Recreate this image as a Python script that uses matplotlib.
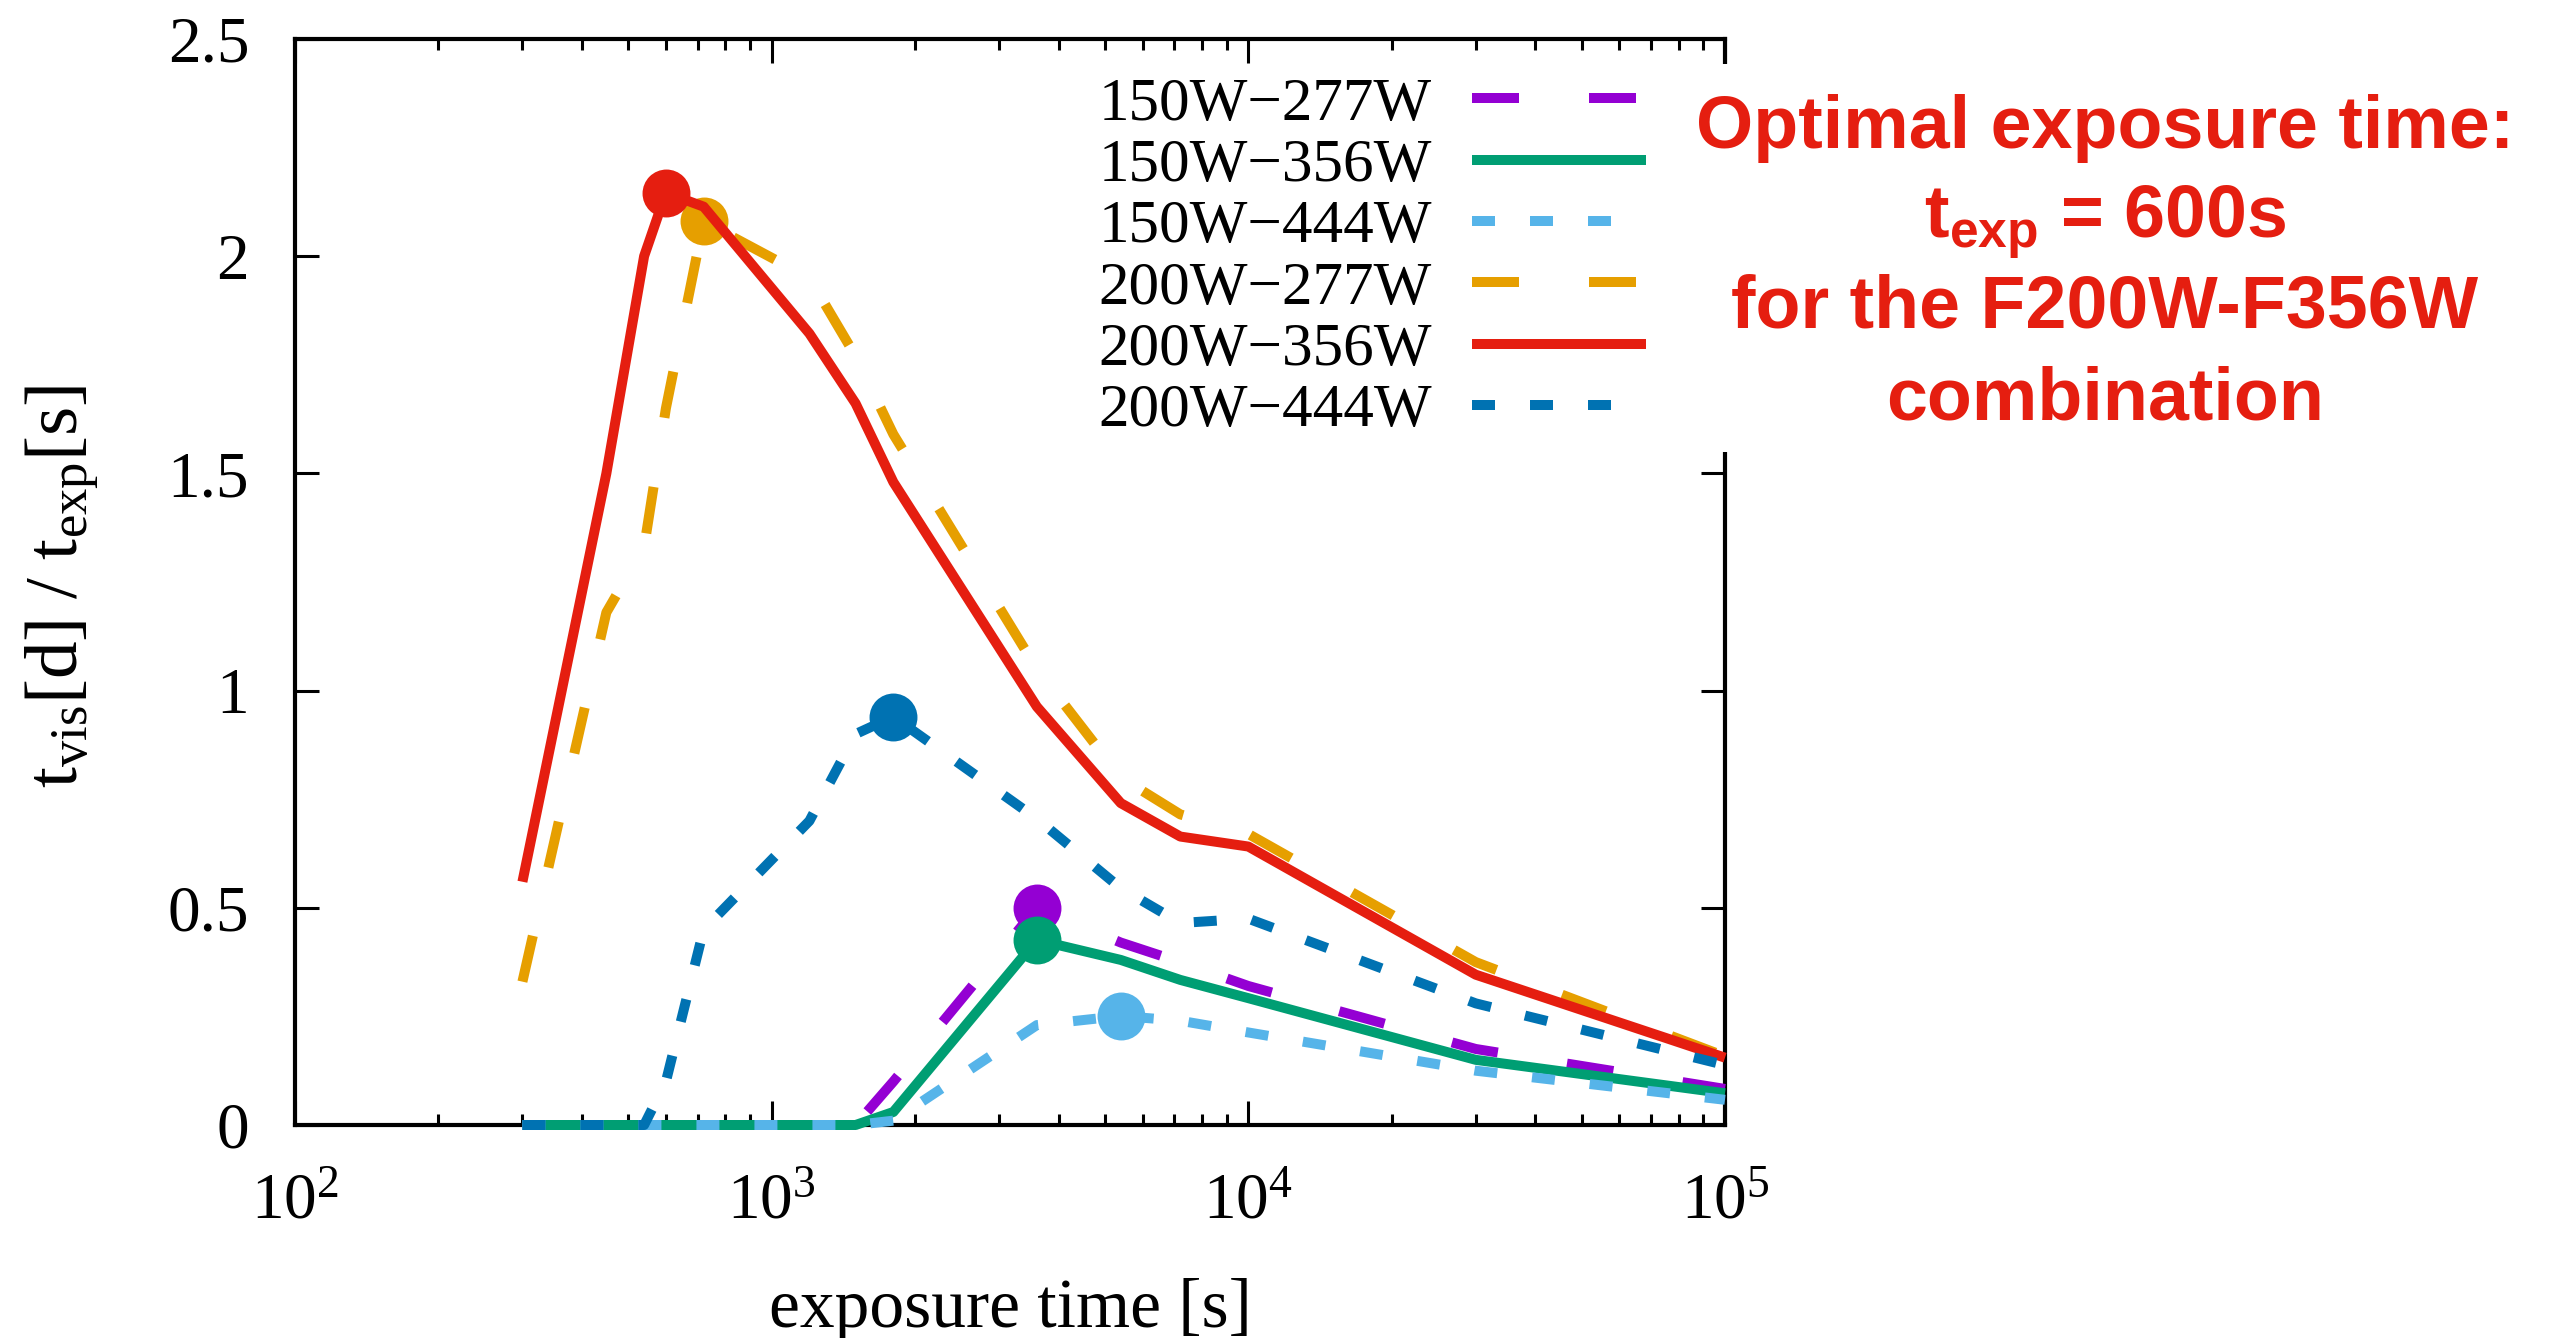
import numpy as np
import matplotlib
matplotlib.use('Agg')
import matplotlib.pyplot as plt
from matplotlib.patches import Rectangle
from matplotlib.ticker import LogLocator, FuncFormatter, NullFormatter, FixedLocator

plt.rcParams['font.family'] = ['Liberation Serif', 'DejaVu Serif']
plt.rcParams['mathtext.fontset'] = 'custom'
plt.rcParams['mathtext.rm'] = 'Liberation Serif'
plt.rcParams['mathtext.it'] = 'Liberation Serif:italic'
plt.rcParams['mathtext.bf'] = 'Liberation Sans:bold'

# ---------------- data ----------------
exposure_time = [300, 450, 540, 600, 720, 1200, 1500, 1800, 3600, 5400, 7200, 10000, 30000, 100000]

f150w_f277w = [0, 0, 0, 0, 0, 0, 0, 0.10, 0.50, 0.42, 0.375, 0.32, 0.175, 0.083]
f150w_f356w = [0, 0, 0, 0, 0, 0, 0, 0.03, 0.426, 0.38, 0.334, 0.292, 0.15, 0.073]
f150w_f444w = [0, 0, 0, 0, 0, 0, 0, 0.01, 0.23, 0.251, 0.24, 0.213, 0.125, 0.058]
f200w_f277w = [0.33, 1.18, 1.33, 1.65, 2.08, 1.95, 1.77, 1.59, 1.05, 0.80, 0.715, 0.67, 0.375, 0.158]
f200w_f356w = [0.56, 1.50, 2.00, 2.146, 2.114, 1.822, 1.661, 1.48, 0.963, 0.741, 0.664, 0.641, 0.346, 0.155]
f200w_f444w = [0, 0, 0, 0.10, 0.45, 0.70, 0.90, 0.94, 0.705, 0.545, 0.465, 0.475, 0.28, 0.138]

labels = ['150W\u2212277W', '150W\u2212356W', '150W\u2212444W',
          '200W\u2212277W', '200W\u2212356W', '200W\u2212444W']
series = [f150w_f277w, f150w_f356w, f150w_f444w, f200w_f277w, f200w_f356w, f200w_f444w]

y_ticks = [0, 0.5, 1, 1.5, 2, 2.5]

annotation_lines = ['Optimal exposure time:', r'$\mathbf{t}_{\mathbf{exp}}$ = 600s',
                    'for the F200W-F356W', 'combination']

# ---------------- styles ----------------
colors = ['#9400d3', '#009e73', '#56b4e9', '#e69f00', '#e51e10', '#0072b2']
long_dash = (0, (4.7, 7.0))
short_dash = (0, (2.3, 3.5))
linestyles = [long_dash, '-', short_dash, long_dash, '-', short_dash]

W, H = 2553, 1338
fig = plt.figure(figsize=(W / 100, H / 100), dpi=100)
ax = fig.add_axes([295 / W, 1 - 1125 / H, 1430 / W, 1086 / H])

lw = 7.2
for y, lab, c, ls in zip(series, labels, colors, linestyles):
    ax.plot(exposure_time, y, color=c, linestyle=ls, lw=lw, label=lab,
            clip_on=False, zorder=3, dash_capstyle='butt', solid_capstyle='butt')
    k = int(np.argmax(y))
    ax.plot([exposure_time[k]], [y[k]], 'o', color=c, ms=34.5, mew=0,
            clip_on=False, zorder=3)

ax.set_xscale('log')
ax.set_xlim(1e2, 1e5)
ax.set_ylim(0, 2.5)
ax.yaxis.set_major_locator(FixedLocator(y_ticks))
ax.yaxis.set_major_formatter(FuncFormatter(lambda v, p: f'{v:g}'))
ax.xaxis.set_major_locator(LogLocator(base=10, numticks=10))
ax.xaxis.set_minor_locator(LogLocator(base=10, subs=np.arange(2, 10), numticks=30))
ax.xaxis.set_minor_formatter(NullFormatter())

ax.tick_params(which='both', direction='in', top=True, right=True, width=2.2, colors='black')
ax.tick_params(which='major', length=17)
ax.tick_params(which='minor', length=8)
ax.tick_params(axis='x', which='major', pad=34, labelsize=47)
ax.tick_params(axis='y', which='major', pad=33, labelsize=47)
for s in ax.spines.values():
    s.set_linewidth(3)

ax.set_xlabel('exposure time [s]', fontsize=50)
ax.xaxis.set_label_coords(0.5, (1125 - 1278) / 1086)
ax.set_ylabel(r'$\mathdefault{t_{vis}[d]\ /\ t_{exp}[s]}$', fontsize=54)
ax.yaxis.set_label_coords((100 - 295) / 1430, (1125 - 586) / 1086)

# white box behind the key (interrupts right frame like the original)
box = Rectangle((1080 / W, 1 - 452 / H), (1750 - 1080) / W, (452 - 64) / H,
                transform=fig.transFigure, facecolor='white', edgecolor='none',
                zorder=4, clip_on=False)
ax.add_artist(box)

leg = ax.legend(loc='upper right', bbox_to_anchor=(1646 / W, 1 - 77 / H),
                bbox_transform=fig.transFigure, frameon=False, fontsize=44,
                handlelength=2.85, handletextpad=0.65, borderpad=0,
                borderaxespad=0, labelspacing=0.09, markerfirst=False)
leg.set_zorder(5)

red = '#e51e10'
baselines = [148, 238, 328, 420]
for txt, b in zip(annotation_lines, baselines):
    fig.text(2105 / W, 1 - b / H, txt, ha='center', va='baseline', color=red,
             fontsize=53, fontweight='bold', family=['Liberation Sans', 'DejaVu Sans'])

fig.savefig('out.png', dpi=100)
